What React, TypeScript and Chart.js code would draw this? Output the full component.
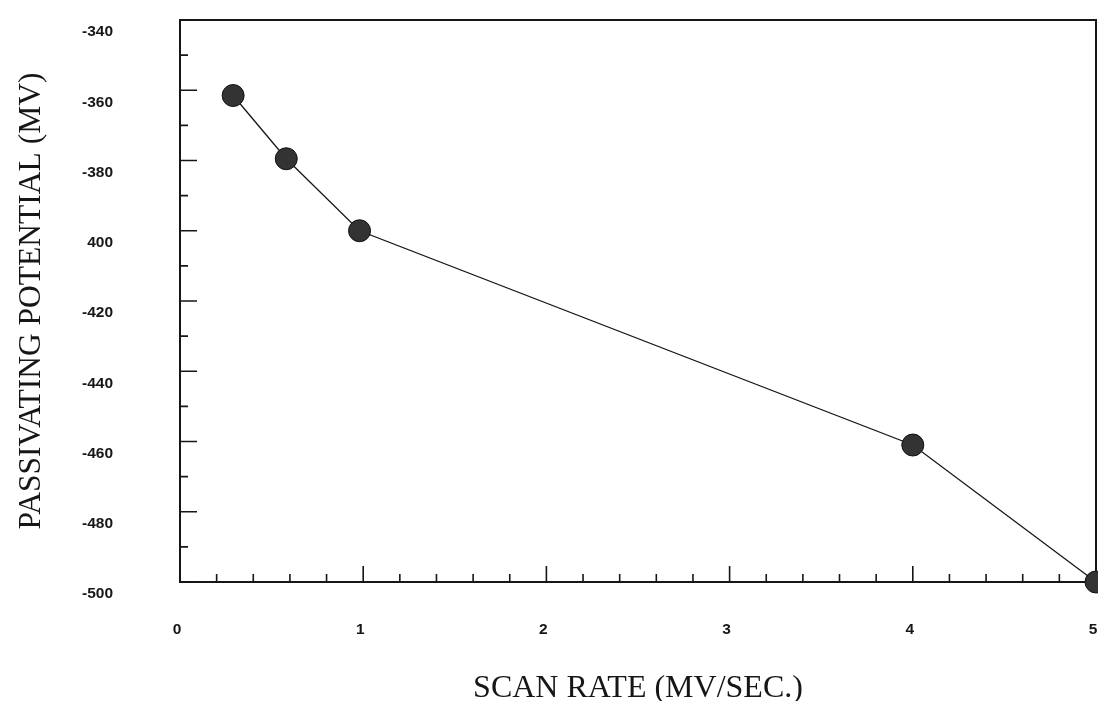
import React, { useEffect, useRef } from "react";
import { Chart, registerables } from "chart.js";

Chart.register(...registerables);

// Data
const scanRate = [0.29, 0.58, 0.98, 4.0, 5.0];
const potential = [-361.5, -379.5, -400, -461, -500];

// Axis ticks and labels
const xTickValues = [0, 1, 2, 3, 4, 5];
const xTickLabels = ["0", "1", "2", "3", "4", "5"];
const xMinorTicks = [
  0.2, 0.4, 0.6, 0.8, 1.2, 1.4, 1.6, 1.8, 2.2, 2.4, 2.6, 2.8,
  3.2, 3.4, 3.6, 3.8, 4.2, 4.4, 4.6, 4.8,
];
const yTickValues = [-340, -360, -380, -400, -420, -440, -460, -480, -500];
const yTickLabels = ["-340", "-360", "-380", "400", "-420", "-440", "-460", "-480", "-500"];
const yMinorTicks = [-350, -370, -390, -410, -430, -450, -470, -490];

const xTitle = "SCAN RATE (MV/SEC.)";
const yTitle = "PASSIVATING POTENTIAL (MV)";

const INK = "#161616";
const tickFont = { family: '"Liberation Sans", Arial, sans-serif', size: 15.5, weight: "bold" as const };
const titleFontFamily = '"Liberation Serif", "Times New Roman", serif';

const framePlugin = {
  id: "frameAndInnerTicks",
  beforeDatasetsDraw(chart: any) {
    const { ctx, chartArea, scales } = chart;
    const { left, right, top, bottom } = chartArea;
    const x = scales.x;
    const y = scales.y;
    ctx.save();
    ctx.strokeStyle = INK;
    ctx.lineWidth = 2;
    ctx.strokeRect(left, top, right - left, bottom - top);
    ctx.lineWidth = 1.6;
    ctx.beginPath();
    for (const v of xTickValues) {
      const px = x.getPixelForValue(v);
      ctx.moveTo(px, bottom);
      ctx.lineTo(px, bottom - 16);
    }
    for (const v of xMinorTicks) {
      const px = x.getPixelForValue(v);
      ctx.moveTo(px, bottom);
      ctx.lineTo(px, bottom - 8);
    }
    for (const v of yTickValues) {
      const py = y.getPixelForValue(v);
      ctx.moveTo(left, py);
      ctx.lineTo(left + 17, py);
    }
    for (const v of yMinorTicks) {
      const py = y.getPixelForValue(v);
      ctx.moveTo(left, py);
      ctx.lineTo(left + 8, py);
    }
    ctx.stroke();
    ctx.restore();
  },
};

export default function App() {
  const canvasRef = useRef<HTMLCanvasElement | null>(null);

  useEffect(() => {
    const canvas = canvasRef.current;
    if (!canvas) return;
    const chart = new Chart(canvas, {
      type: "line",
      data: {
        datasets: [
          {
            data: scanRate.map((v, i) => ({ x: v, y: potential[i] })),
            borderColor: INK,
            borderWidth: 1.3,
            pointRadius: 11,
            pointBackgroundColor: "#333333",
            pointBorderColor: "#111",
            pointBorderWidth: 1,
            tension: 0,
            fill: false,
            clip: false as any,
          },
        ],
      },
      options: {
        responsive: false,
        animation: false,
        events: [],
        layout: { autoPadding: false, padding: { top: 20, right: 2, left: 0, bottom: 0 } },
        plugins: {
          legend: { display: false },
          tooltip: { enabled: false },
        },
        scales: {
          x: {
            type: "linear",
            min: 0,
            max: 5,
            afterBuildTicks: (s: any) => {
              s.ticks = xTickValues.map((v) => ({ value: v }));
            },
            afterFit: (s: any) => {
              s.height = 119;
              s.paddingLeft = 0;
              s.paddingRight = 0;
            },
            ticks: {
              callback: (v: any) => {
                const i = xTickValues.indexOf(Number(v));
                return i >= 0 ? xTickLabels[i] : "";
              },
              autoSkip: false,
              maxRotation: 0,
              padding: 38,
              labelOffset: -3,
              color: INK,
              font: tickFont,
            },
            grid: { display: false, drawTicks: false },
            border: { display: false },
            title: {
              display: true,
              text: xTitle,
              color: INK,
              font: { family: titleFontFamily, size: 32, lineHeight: 0.75 },
              padding: { top: 0, bottom: 0 },
            },
          },
          y: {
            type: "linear",
            min: -500,
            max: -340,
            afterBuildTicks: (s: any) => {
              s.ticks = yTickValues.map((v) => ({ value: v }));
            },
            afterFit: (s: any) => {
              s.width = 180;
              s.paddingTop = 0;
              s.paddingBottom = 0;
            },
            ticks: {
              callback: (v: any) => {
                const i = yTickValues.indexOf(Number(v));
                return i >= 0 ? yTickLabels[i] : "";
              },
              autoSkip: false,
              padding: 67,
              labelOffset: 12,
              color: INK,
              font: tickFont,
            },
            grid: { display: false, drawTicks: false },
            border: { display: false },
            title: {
              display: true,
              text: yTitle,
              color: INK,
              font: { family: titleFontFamily, size: 31.5, lineHeight: 1.2 },
              padding: { top: 13, bottom: 0 },
            },
          },
        },
      },
      plugins: [framePlugin],
    });
    return () => chart.destroy();
  }, []);

  return (
    <div style={{ position: "absolute", left: 0, top: 0, width: 1098, height: 701, background: "#fff" }}>
      <canvas ref={canvasRef} width={1098} height={701} />
    </div>
  );
}
